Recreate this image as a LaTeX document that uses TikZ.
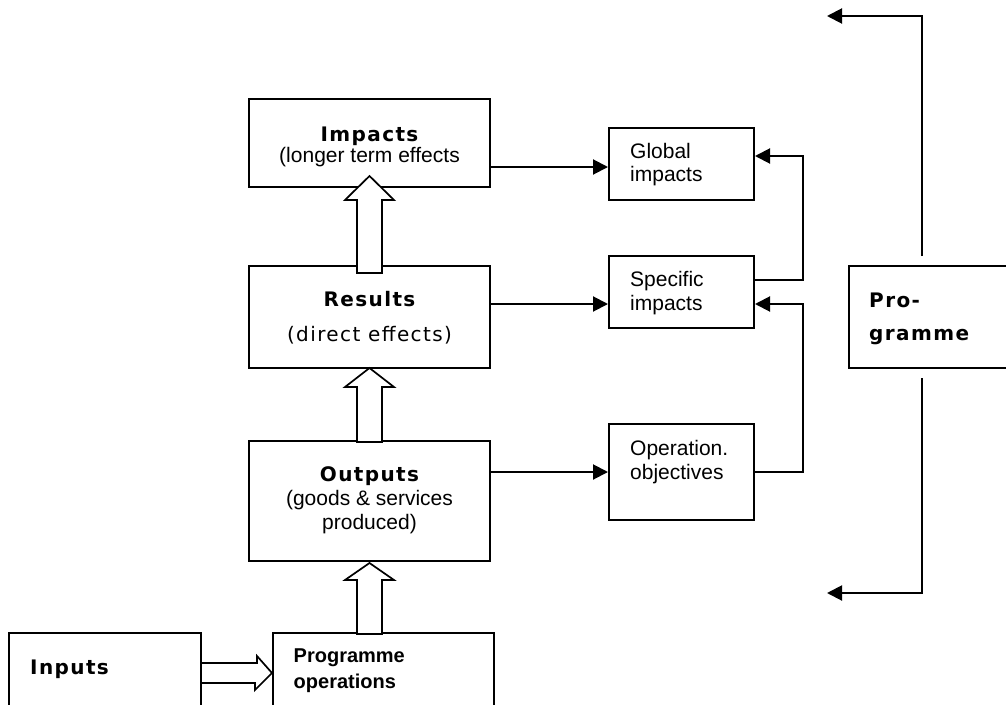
\documentclass[tikz,border=0pt]{standalone}
\usepackage{fontspec}
\setmainfont{Liberation Sans}
\newfontfamily\verd[LetterSpace=7]{DejaVu Sans}
\usetikzlibrary{arrows.meta,calc}
\begin{document}
\begin{tikzpicture}[x=1pt,y=-1pt,
  box/.style={draw,line width=2pt,inner sep=0pt},
  conn/.style={line width=2pt,-{Triangle[length=15pt,width=15pt]}},
  hollow/.style={draw,fill=white,line width=1.7pt,line join=miter},
  ar/.style={font=\fontsize{21}{24}\selectfont,inner sep=0pt},
  ab/.style={font=\bfseries\fontsize{20}{24}\selectfont,inner sep=0pt},
  vt/.style={font=\verd\bfseries\fontsize{20}{24}\selectfont,inner sep=0pt},
  vr/.style={font=\verd\fontsize{20}{24}\selectfont,inner sep=0pt}]
\useasboundingbox (0,0) rectangle (1006,704);
\fill[white] (0,0) rectangle (1006,704);
\clip (0,0) rectangle (1006,704);

% boxes
\node[box,minimum width=241pt,minimum height=88pt]  (impacts)   at (369.5,143) {};
\node[box,minimum width=241pt,minimum height=102pt] (results)   at (369.5,317) {};
\node[box,minimum width=241pt,minimum height=120pt] (outputs)   at (369.5,501) {};
\node[box,minimum width=221pt,minimum height=80pt]  (progops)   at (383.5,673) {};
\node[box,minimum width=192pt,minimum height=80pt]  (inputs)    at (105,673) {};
\node[box,minimum width=145pt,minimum height=72pt]  (global)    at (681.5,164) {};
\node[box,minimum width=145pt,minimum height=72pt]  (specific)  at (681.5,292) {};
\node[box,minimum width=145pt,minimum height=96pt]  (operation) at (681.5,472) {};
\node[box,minimum width=163pt,minimum height=102pt] (programme) at (930.5,317) {};

% hollow block arrows
\draw[hollow] ($(impacts.south)+(0,-12)$) -- ++(24.5,24) -- ++(-12,0) -- ++(0,73)
  -- ++(-25,0) -- ++(0,-73) -- ++(-12,0) -- cycle;
\draw[hollow] ($(results.south)+(0,-1)$) -- ++(24.5,19) -- ++(-12,0) -- ++(0,55)
  -- ++(-25,0) -- ++(0,-55) -- ++(-12,0) -- cycle;
\draw[hollow] ($(outputs.south)+(0,1)$) -- ++(24.5,17) -- ++(-12,0) -- ++(0,54)
  -- ++(-25,0) -- ++(0,-54) -- ++(-12,0) -- cycle;
\draw[hollow] ($(inputs.east)+(0,-10)$) -- ++(55,0) -- ++(0,-7) -- (progops.west)
  -- ++(-17,17) -- ++(0,-7) -- ($(inputs.east)+(0,10)$);

% connectors
\draw[conn] ($(impacts.east)+(0,24)$) -- ($(global.west)+(0,3)$);
\draw[conn] ($(results.east)+(0,-13)$) -- ($(specific.west)+(0,12)$);
\draw[conn] ($(outputs.east)+(0,-29)$) -- (operation.west);
\draw[conn] ($(specific.east)+(0,-12)$) -- ++(48,0) |- ($(global.east)+(0,-8)$);
\draw[conn] (operation.east) -- ++(48,0) |- ($(specific.east)+(0,12)$);

\coordinate (pa) at ($(programme.north)+(-8.5,-9)$);
\coordinate (pb) at (827,16);
\coordinate (pc) at ($(programme.south)+(-8.5,9)$);
\coordinate (pd) at (827,593);
\draw[conn] (pa) |- (pb);
\draw[conn] (pc) |- (pd);

% texts
\node[vt,anchor=base] (t-imp1) at (369.5,141) {Impacts};
\node[ar,anchor=base] (t-imp2) at (369.5,162.5) {(longer term effects};
\node[vt,anchor=base] (t-res1) at (369.5,306.5) {Results};
\node[vr,anchor=base] (t-res2) at (369.5,341.5) {(direct effects)};
\node[vt,anchor=base] (t-out1) at (369.5,481.5) {Outputs};
\node[ar,anchor=base] (t-out2) at (369.5,505) {(goods \& services};
\node[ar,anchor=base] (t-out3) at (369.5,529) {produced)};
\node[ar,anchor=base west] (t-glo1) at (630,158) {Global};
\node[ar,anchor=base west] (t-glo2) at (630,181.5) {impacts};
\node[ar,anchor=base west] (t-spe1) at (630,286) {Specific};
\node[ar,anchor=base west] (t-spe2) at (630,310.5) {impacts};
\node[ar,anchor=base west] (t-ope1) at (630,455) {Operation.};
\node[ar,anchor=base west] (t-ope2) at (630,479) {objectives};
\node[vt,anchor=base west] (t-pro1) at (869,307) {Pro-};
\node[vt,anchor=base west] (t-pro2) at (869,340) {gramme};
\node[vt,anchor=base west] (t-inp) at (30,674) {Inputs};
\node[ab,anchor=base west] (t-po1) at (293.5,662.5) {Programme};
\node[ab,anchor=base west] (t-po2) at (293.5,688) {operations};
\end{tikzpicture}
\end{document}
